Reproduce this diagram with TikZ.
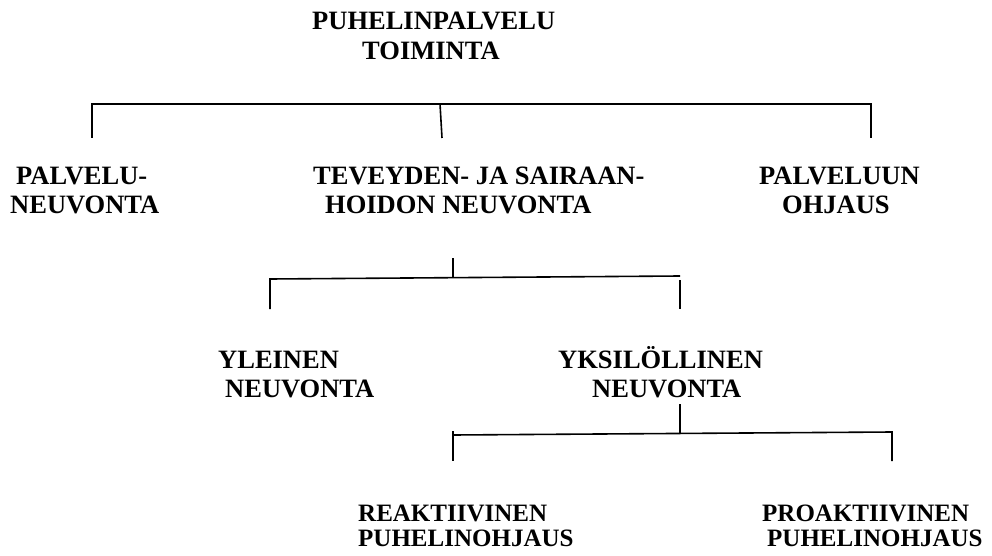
\documentclass[tikz,border=0pt]{standalone}
\usepackage{fontspec}
\setmainfont{Liberation Serif}
\begin{document}
\begin{tikzpicture}[x=1pt,y=-1pt,
  lbl/.style={anchor=base west,inner sep=0pt,align=left,font=\bfseries\fontsize{26.5}{#1}\selectfont},
  lbl/.default=29,
  lblsm/.style={anchor=base west,inner sep=0pt,align=left,font=\bfseries\fontsize{25}{25}\selectfont},
  conn/.style={line width=1.6pt,line cap=butt}]
\useasboundingbox (0,0) rectangle (992,556);
% texts (anchored at the baseline of the last line)
\node[lbl=30] (root) at (312,60) {PUHELINPALVELU\\\hspace*{50pt}TOIMINTA};
\node[lbl=29] (pn) at (10,213) {\hspace*{6pt}PALVELU-\\NEUVONTA};
\node[lbl=29] (ts) at (313,213) {TEVEYDEN- JA SAIRAAN-\\\hspace*{12pt}HOIDON NEUVONTA};
\node[lbl=29] (po) at (759,213) {PALVELUUN\\\hspace*{23pt}OHJAUS};
\node[lbl=29] (yl) at (218,397) {YLEINEN\\\hspace*{7pt}NEUVONTA};
\node[lbl=29] (yk) at (558,397) {YKSIL\"OLLINEN\\\hspace*{34pt}NEUVONTA};
\node[lblsm] (re) at (358,546) {REAKTIIVINEN\\PUHELINOHJAUS};
\node[lblsm] (pr) at (762,546) {PROAKTIIVINEN\\\hspace*{5pt}PUHELINOHJAUS};
% bracket 1
\coordinate (a0) at (92,104);  \coordinate (a1) at (92,138);
\coordinate (am) at (440,104); \coordinate (am2) at (442,138);
\coordinate (ar) at (871,104); \coordinate (ar2) at (871,138);
\draw[conn] (a1) -- (a0) -- (ar) -- (ar2);
\draw[conn] (am) -- (am2);
% bracket 2
\coordinate (b0) at (453,258); \coordinate (bm) at (453,277.5);
\coordinate (bl) at (270,279); \coordinate (bl2) at (270,309);
\coordinate (br) at (680,276); \coordinate (br1) at (680,280); \coordinate (br2) at (680,309);
\draw[conn] (b0) -- (bm);
\draw[conn] (bl2) -- (bl) -- (br);
\draw[conn] (br1) -- (br2);
% bracket 3
\coordinate (c0) at (680,404); \coordinate (cm) at (680,433.5);
\coordinate (cl0) at (453,431); \coordinate (cl) at (453,435); \coordinate (cl2) at (453,461);
\coordinate (cr) at (892,432); \coordinate (cr2) at (892,461);
\draw[conn] (c0) -- (cm);
\draw[conn] (cl0) -- (cl2);
\draw[conn] (cl) -- (cr) -- (cr2);
\end{tikzpicture}
\end{document}
